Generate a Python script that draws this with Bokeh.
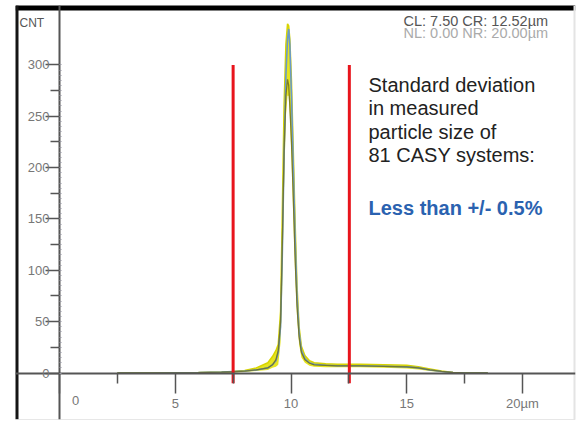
from bokeh.plotting import figure
from bokeh.models import LinearAxis, FixedTicker, Range1d, Label, ColumnDataSource
from bokeh.embed import file_html
from bokeh.resources import INLINE

# ---------------- data ----------------
size_um = [2.5, 4.0, 5.0, 6.0, 7.0, 7.5, 8.0, 8.5, 9.0, 9.2, 9.35, 9.45, 9.55, 9.62,
           9.7, 9.78, 9.85, 9.9, 9.95, 10.02, 10.1, 10.18, 10.26, 10.35, 10.45, 10.6,
           10.8, 11.0, 11.5, 12.0, 13.0, 14.0, 15.0, 15.5, 16.0, 16.5, 17.0, 17.5, 18.5]
count_blue = [0, 0, 0.3, 0.5, 1, 1.5, 2, 3, 5, 8, 12, 20, 45, 110, 210, 290, 325, 335, 320,
              270, 200, 130, 75, 40, 22, 14, 10, 8.5, 7.5, 7, 7, 6.5, 6, 5, 3, 1.5, 0.5, 0.2, 0]
count_dark = [0, 0, 0.2, 0.4, 0.8, 1.2, 1.8, 3, 5, 8, 13, 22, 50, 120, 215, 270, 286, 280, 260,
              225, 170, 110, 65, 35, 20, 13, 9.5, 8, 7.5, 7, 7, 6.5, 6, 5, 3, 1.5, 0.5, 0.2, 0]
count_upper = [0, 0, 0.3, 0.5, 1, 1.5, 2.5, 5, 10, 16, 22, 28, 60, 150, 260, 320, 340, 338, 325,
               285, 215, 145, 85, 45, 26, 17, 12, 10, 9, 8.5, 8.5, 8, 7.5, 6, 4, 2, 0.6, 0.2, 0]
count_lower = [0, 0, 0, 0, 0, 0.5, 1, 2, 3, 5, 6, 8, 30, 80, 180, 250, 270, 270, 250,
               210, 150, 95, 55, 28, 15, 10, 7, 6, 5.5, 5.5, 5.5, 5, 4.5, 3.5, 2, 1, 0.3, 0, 0]

cursor_x = [7.50, 12.52]
cursor_top = [300, 300]
cursor_bottom = [-10, -10]

x_major = [0, 5, 10, 15, 20]
x_minor = [2.5, 7.5, 12.5, 17.5]
x_labels = {0: "", 5: "5", 10: "10", 15: "15", 20: "20µm"}
y_major = [0, 50, 100, 150, 200, 250, 300]
y_minor = [25, 75, 125, 175, 225, 275]
y_fine = list(range(0, 305, 5))

y_title = "CNT"
info_lines = ["CL:  7.50 CR: 12.52µm", "NL:  0.00 NR: 20.00µm"]
note_lines = ["Standard deviation", "in measured", "particle size of", "81 CASY systems:"]
note_result = "Less than +/- 0.5%"

# ---------------- geometry (page pixels) ----------------
PX_PER_X = 23.15
PX_PER_Y = 1.027
X0_PX = 59.0     # page px of x = 0
Y0_PX = 372.5    # page px of y = 0
FRAME_L, FRAME_R, FRAME_T, FRAME_B = 15, 575, 5, 419
W, H = 578, 421


def dx(px):
    return (px - X0_PX) / PX_PER_X


def dy(py):
    return (Y0_PX - py) / PX_PER_Y


FONT = "Liberation Sans"
AX = "#555555"

p = figure(width=W, height=H, title=None,
           x_range=Range1d(dx(FRAME_L), dx(FRAME_R)),
           y_range=Range1d(dy(FRAME_B), dy(FRAME_T)),
           x_axis_type=None, y_axis_type=None,
           toolbar_location=None, output_backend="svg",
           min_border_left=FRAME_L, min_border_right=W - FRAME_R,
           min_border_top=FRAME_T, min_border_bottom=H - FRAME_B,
           outline_line_color=None, background_fill_color="white", border_fill_color="white")

# frame borders (strip glyphs spanning the frame)
p.hstrip(y0=[dy(3)], y1=[dy(10)], fill_color="black", line_color=None)
p.vstrip(x0=[dx(14)], x1=[dx(18)], fill_color="#151515", line_color=None)
p.vstrip(x0=[dx(573)], x1=[dx(576)], fill_color="#e4e4e4", line_color=None)
p.hspan(y=[dy(418.5)], line_color="#d0d0d0", line_width=1)

# curves
src = ColumnDataSource(dict(x=size_um, blue=count_blue, dark=count_dark,
                            up=count_upper, lo=count_lower))
p.varea(x="x", y1="lo", y2="up", source=src, fill_color="#e6e41e")
p.line(x="x", y="up", source=src, line_color="#d8d400", line_width=1.5)
p.line(x="x", y="blue", source=src, line_color="#6a9ac8", line_width=1.6)
p.line(x="x", y="dark", source=src, line_color="#6f6f22", line_width=1.3, line_alpha=0.85)

# cursors
p.segment(x0=cursor_x, y0=cursor_bottom, x1=cursor_x, y1=cursor_top,
          line_color="#e8141c", line_width=3)

# x axis
xa = LinearAxis(fixed_location=0, ticker=FixedTicker(ticks=x_major, minor_ticks=x_minor))
xa.axis_line_color = AX
xa.axis_line_width = 2
xa.major_tick_line_color = AX
xa.major_tick_line_width = 1.5
xa.major_tick_in = 0
xa.major_tick_out = 20
xa.minor_tick_line_color = AX
xa.minor_tick_line_width = 1.5
xa.minor_tick_in = 0
xa.minor_tick_out = 10
xa.major_label_overrides = x_labels
xa.major_label_text_align = "left"
xa.major_label_standoff = 3
xa.major_label_text_font = FONT
xa.major_label_text_font_size = "13px"
xa.major_label_text_color = "#777777"
p.add_layout(xa, "below")

# the "0" label sits to the right of the y axis
xa0 = LinearAxis(fixed_location=0, ticker=FixedTicker(ticks=[0.7]),
                 major_label_overrides={0.7: "0"})
xa0.axis_line_color = None
xa0.major_tick_line_color = None
xa0.minor_tick_line_color = None
xa0.major_tick_in = 0
xa0.major_tick_out = 20
xa0.major_label_text_align = "left"
xa0.major_label_standoff = 3
xa0.major_label_text_font = FONT
xa0.major_label_text_font_size = "13px"
xa0.major_label_text_color = "#777777"
p.add_layout(xa0, "below")

# y axis
ya = LinearAxis(fixed_location=0, ticker=FixedTicker(ticks=y_major, minor_ticks=y_minor))
ya.axis_line_color = AX
ya.axis_line_width = 2
ya.major_tick_line_color = AX
ya.major_tick_line_width = 1.5
ya.major_tick_in = 0
ya.major_tick_out = 14
ya.minor_tick_line_color = AX
ya.minor_tick_line_width = 1.5
ya.minor_tick_in = 0
ya.minor_tick_out = 9
ya.major_label_standoff = -4
ya.major_label_text_baseline = "alphabetic"
ya.major_label_text_font = FONT
ya.major_label_text_font_size = "13px"
ya.major_label_text_color = "#777777"
p.add_layout(ya, "left")

ya2 = LinearAxis(fixed_location=0, ticker=FixedTicker(ticks=y_fine))
ya2.axis_line_color = None
ya2.major_tick_line_color = "#9a9aa4"
ya2.major_tick_line_width = 1
ya2.major_tick_in = 2
ya2.major_tick_out = 0
ya2.minor_tick_line_color = None
ya2.major_label_text_color = None
p.add_layout(ya2, "left")

# texts
p.add_layout(Label(x=dx(19), y=dy(22), text=y_title, text_font=FONT, text_font_size="12px",
                   text_color="#555555", text_baseline="middle", text_align="left"))
for i, (t, c) in enumerate(zip(info_lines, ["#555555", "#aaaaaa"])):
    p.add_layout(Label(x=dx(403), y=dy(20 + 12 * i), text=t, text_font=FONT,
                       text_font_size="14.5px", text_color=c,
                       text_baseline="middle", text_align="left"))
for i, t in enumerate(note_lines):
    p.add_layout(Label(x=dx(368), y=dy(84 + 23.5 * i), text=t, text_font=FONT,
                       text_font_size="20px", text_color="#222222",
                       text_baseline="middle", text_align="left"))
p.add_layout(Label(x=dx(368), y=dy(207), text=note_result, text_font=FONT,
                   text_font_size="20px", text_font_style="bold", text_color="#2a62b0",
                   text_baseline="middle", text_align="left"))

open("out.html", "w").write(file_html(p, INLINE))
